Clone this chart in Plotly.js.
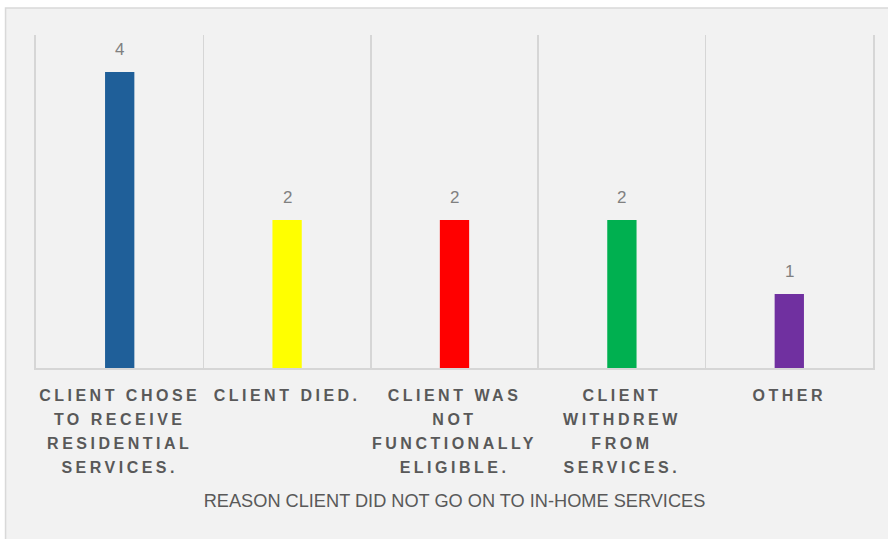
<!DOCTYPE html>
<html>
<head>
<meta charset="utf-8">
<script src="https://cdn.plot.ly/plotly-3.0.1.min.js"></script>
<style>
  html, body { margin: 0; padding: 0; background: #ffffff; }
  #chart { width: 888px; height: 539px; }
  /* spaced-out capitals for the category labels */
  .xtick text { letter-spacing: 3.5px; }
</style>
</head>
<body>
<div id="chart"></div>
<script>
// Reasons (one entry per line of the wrapped label)
const reasonLines = [
  ["CLIENT CHOSE", "TO RECEIVE", "RESIDENTIAL", "SERVICES."],
  ["CLIENT DIED."],
  ["CLIENT WAS", "NOT", "FUNCTIONALLY", "ELIGIBLE."],
  ["CLIENT", "WITHDREW", "FROM", "SERVICES."],
  ["OTHER"]
];
const counts = [4, 2, 2, 2, 1];
const barColors = ["#1F5F99", "#FFFF00", "#FF0000", "#00B050", "#7030A0"];
const axisTitle = "REASON CLIENT DID NOT GO ON TO IN-HOME SERVICES";

const categories = reasonLines.map(l => l.join(" "));
const tickText = reasonLines.map(l =>
  l.map(s => '<span style="font-size:16px">' + s + '</span>').join("<br>")
);

const trace = {
  type: "bar",
  x: categories,
  y: counts,
  marker: { color: barColors },
  hoverinfo: "x+y"
};

// value labels above each bar
const valueLabels = categories.map((c, i) => ({
  x: c,
  y: counts[i],
  xref: "x",
  yref: "y",
  text: String(counts[i]),
  showarrow: false,
  yanchor: "middle",
  yshift: 23,
  font: { family: "Liberation Sans, Arial, sans-serif", size: 17, color: "#808080" }
}));

const layout = {
  width: 888,
  height: 539,
  margin: { l: 36, r: 15, t: 35, b: 171 },
  paper_bgcolor: "#ffffff",
  plot_bgcolor: "rgba(0,0,0,0)",
  showlegend: false,
  bargap: 0.825,
  font: { family: "Liberation Sans, Arial, sans-serif", color: "#595959" },
  xaxis: {
    type: "category",
    tickmode: "array",
    tickvals: categories,
    ticktext: tickText,
    tickson: "boundaries",
    ticks: "",
    showgrid: true,
    gridcolor: "#d6d6d6",
    gridwidth: 1.6,
    showline: true,
    linecolor: "#d6d6d6",
    linewidth: 1.6,
    zeroline: false,
    ticklabelstandoff: 9,
    tickfont: { family: "Liberation Sans, Arial, sans-serif", size: 18.46, color: "#595959", weight: "bold" },
    title: {
      text: axisTitle,
      standoff: 19,
      font: { family: "Liberation Sans, Arial, sans-serif", size: 18.2, color: "#595959" }
    },
    fixedrange: true
  },
  yaxis: {
    range: [0, 4.5],
    showticklabels: false,
    ticks: "",
    showgrid: false,
    zeroline: false,
    // outer boundary lines on the left and right of the plot
    showline: true,
    mirror: true,
    linecolor: "#d6d6d6",
    linewidth: 1.6,
    fixedrange: true
  },
  shapes: [{
    type: "rect",
    xref: "paper", yref: "paper",
    x0: -0.0364, x1: 1.1, y0: -0.6, y1: 1.081,
    fillcolor: "#f2f2f2",
    line: { color: "#d9d9d9", width: 1.5 },
    layer: "below"
  }],
  annotations: valueLabels
};

Plotly.newPlot("chart", [trace], layout, { displayModeBar: false, staticPlot: true });
</script>
</body>
</html>
